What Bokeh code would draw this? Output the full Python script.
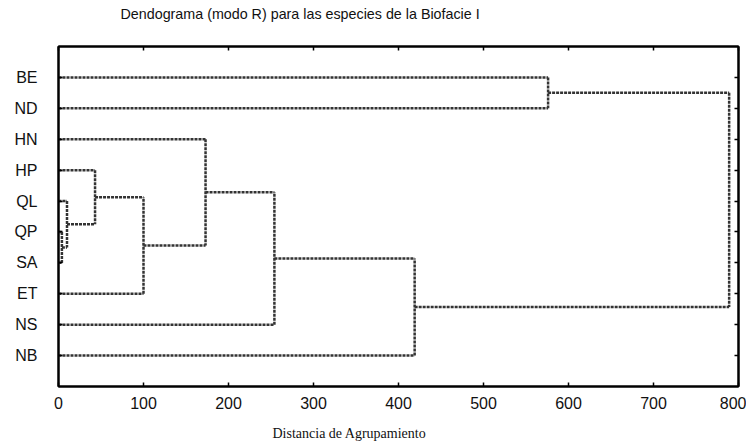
from bokeh.plotting import figure
from bokeh.models import Range1d, FixedTicker, LinearAxis, ColumnDataSource, Title
from bokeh.embed import file_html
from bokeh.resources import INLINE

# Leaves (top to bottom)
labels = ["BE", "ND", "HN", "HP", "QL", "QP", "SA", "ET", "NS", "NB"]
# Merges: left member, right member, distance, new cluster name
merge_left = ["QP", "QL", "HP", "ET", "HN", "NS", "NB", "BE", "c8"]
merge_right = ["SA", "c1", "c2", "c3", "c4", "c5", "c6", "ND", "c7"]
merge_height = [4, 10, 43, 100, 173, 254, 419, 576, 789]
merge_name = ["c1", "c2", "c3", "c4", "c5", "c6", "c7", "c8", "c9"]
x_ticks = [0, 100, 200, 300, 400, 500, 600, 700, 800]
title_text = "Dendograma (modo R) para las especies de la Biofacie I"
xlabel_text = "Distancia de Agrupamiento"

pos = {lab: i for i, lab in enumerate(labels)}
hgt = {lab: 0 for lab in labels}
x0, y0, x1, y1 = [], [], [], []
for l, r, h, n in zip(merge_left, merge_right, merge_height, merge_name):
    for c in (l, r):
        x0.append(hgt[c]); y0.append(pos[c]); x1.append(h); y1.append(pos[c])
    x0.append(h); y0.append(pos[l]); x1.append(h); y1.append(pos[r])
    pos[n] = (pos[l] + pos[r]) / 2
    hgt[n] = h

src = ColumnDataSource(dict(x0=x0, y0=y0, x1=x1, y1=y1))

p = figure(frame_width=680, frame_height=340, output_backend="svg",
           toolbar_location=None, x_range=Range1d(0, 800),
           y_range=Range1d(10, -1), title=title_text,
           min_border_left=58, min_border_right=8, min_border_top=46,
           min_border_bottom=4, x_axis_location=None, y_axis_location=None)
p.title.text_font = "Liberation Sans"
p.title.text_font_size = "14.3px"
p.title.text_font_style = "normal"
p.title.text_color = "#111111"
p.title.align = "left"
p.title.offset = 62
p.title.standoff = 2
p.title.padding = dict(left=0, right=0, top=0, bottom=24)

p.segment(x0="x0", y0="y0", x1="x1", y1="y1", source=src,
          line_color="#333333", line_width=2.5, line_dash="3 1")

p.xgrid.visible = False
p.ygrid.visible = False
p.outline_line_color = "black"
p.outline_line_width = 2
p.background_fill_color = "white"
p.border_fill_color = "white"

row_ticker = FixedTicker(ticks=list(range(len(labels))))
x_ticker = FixedTicker(ticks=x_ticks)

def style(ax, show_labels, ticks):
    ax.axis_line_color = "black"
    ax.axis_line_width = 2
    ax.major_tick_in = 4
    ax.major_tick_out = 0
    ax.major_tick_line_width = 1.5
    ax.minor_tick_line_color = None
    if not show_labels:
        ax.major_label_overrides = {t: "" for t in ticks}
        ax.major_label_text_color = None
        ax.major_label_standoff = 0

bottom = LinearAxis(ticker=x_ticker)
style(bottom, True, x_ticks)
bottom.major_label_text_font = "Liberation Sans"
bottom.major_label_text_font_size = "16px"
bottom.major_label_text_color = "#111111"
bottom.major_label_standoff = 10
p.add_layout(bottom, "below")

xlabel = Title(text=xlabel_text, align="left", offset=214,
               text_font="Liberation Serif", text_font_size="14px",
               text_font_style="normal", text_color="#111111", standoff=24)
p.add_layout(xlabel, "below")

top = LinearAxis(ticker=x_ticker)
style(top, False, x_ticks)
p.add_layout(top, "above")

left = LinearAxis(ticker=row_ticker)
style(left, True, list(range(len(labels))))
left.major_label_overrides = {i: lab for i, lab in enumerate(labels)}
left.major_label_text_font = "Liberation Sans"
left.major_label_text_font_size = "16px"
left.major_label_text_color = "#111111"
left.major_label_standoff = 21
p.add_layout(left, "left")

right = LinearAxis(ticker=row_ticker)
style(right, False, list(range(len(labels))))
p.add_layout(right, "right")

open("out.html", "w").write(file_html(p, INLINE))
